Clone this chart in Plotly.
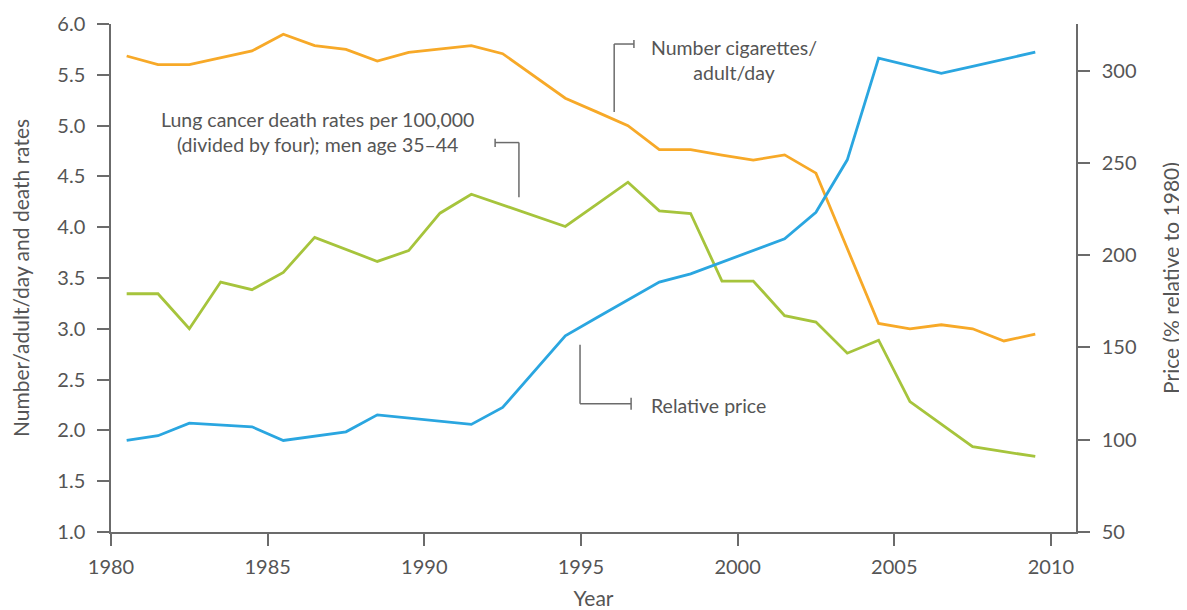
import plotly.graph_objects as go

years = list(range(1980, 2010))
cigarettes = [5.685, 5.60, 5.60, 5.665, 5.735, 5.90, 5.787, 5.75, 5.636, 5.72,
              5.753, 5.787, 5.708, 5.49, 5.27, 5.135, 5.00, 4.764, 4.764, 4.71,
              4.66, 4.712, 4.532, 3.79, 3.053, 3.00, 3.04, 3.00, 2.88, 2.947]
lung_cancer = [3.345, 3.345, 3.00, 3.46, 3.385, 3.555, 3.90, 3.78, 3.663, 3.77,
               4.138, 4.325, 4.22, 4.113, 4.007, 4.225, 4.443, 4.161, 4.135, 3.47,
               3.47, 3.129, 3.066, 2.76, 2.888, 2.283, 2.06, 1.84, 1.79, 1.745]
price = [99.6, 102.2, 109.0, 108.0, 107.0, 99.6, 102.0, 104.3, 113.5, 111.8,
         110.0, 108.3, 117.5, 136.9, 156.3, 166.1, 175.9, 185.4, 189.9, 196.2,
         202.6, 208.9, 223.3, 251.7, 306.8, 302.7, 298.6, 302.4, 306.2, 310.0]

x_tick_labels = [1980, 1985, 1990, 1995, 2000, 2005, 2010]
y_left_ticks = [1.0, 1.5, 2.0, 2.5, 3.0, 3.5, 4.0, 4.5, 5.0, 5.5, 6.0]
y_right_ticks = [50, 100, 150, 200, 250, 300]

xpos = [y + 0.5 for y in years]

ORANGE = "#F7A928"
GREEN = "#A6C43C"
BLUE = "#2AA6E0"
GREY = "#555555"
AXIS = "#6b6b6b"
FONT = "Lato"

fig = go.Figure()
fig.add_trace(go.Scatter(x=xpos, y=cigarettes, mode="lines",
                         line=dict(color=ORANGE, width=2.8), yaxis="y"))
fig.add_trace(go.Scatter(x=xpos, y=lung_cancer, mode="lines",
                         line=dict(color=GREEN, width=2.8), yaxis="y"))
fig.add_trace(go.Scatter(x=xpos, y=price, mode="lines",
                         line=dict(color=BLUE, width=2.8), yaxis="y2"))

# annotation brackets (data coordinates)
brackets = [
    dict(path=[(1996.06, 5.134), (1996.06, 5.803), (1996.69, 5.803)], cap=(1996.69, 5.764, 5.843)),
    dict(path=[(1993.02, 4.296), (1993.02, 4.833), (1992.26, 4.833)], cap=(1992.26, 4.79, 4.87)),
    dict(path=[(1994.97, 2.843), (1994.97, 2.263), (1996.6, 2.263)], cap=(1996.6, 2.203, 2.321)),
]
shapes = []
for b in brackets:
    p = b["path"]
    for (x0, y0), (x1, y1) in zip(p[:-1], p[1:]):
        shapes.append(dict(type="line", xref="x", yref="y", x0=x0, y0=y0, x1=x1, y1=y1,
                           line=dict(color=AXIS, width=1.5)))
    cx, cy0, cy1 = b["cap"]
    shapes.append(dict(type="line", xref="x", yref="y", x0=cx, y0=cy0, x1=cx, y1=cy1,
                       line=dict(color=AXIS, width=1.5)))

ANN_SIZE = 19.5
annotations = [
    dict(x=1999.87, y=5.646, xref="x", yref="y", text="Number cigarettes/<br>adult/day",
         showarrow=False, align="center", font=dict(family=FONT, size=ANN_SIZE, color=GREY)),
    dict(x=1986.6, y=4.933, xref="x", yref="y",
         text="Lung cancer death rates per 100,000<br>(divided by four); men age 35\u201344",
         showarrow=False, align="center", font=dict(family=FONT, size=ANN_SIZE, color=GREY)),
    dict(x=1997.17, y=2.243, xref="x", yref="y", text="Relative price", xanchor="left",
         showarrow=False, align="left", font=dict(family=FONT, size=ANN_SIZE, color=GREY)),
]

axis_common = dict(ticks="outside", ticklen=12, tickcolor=AXIS, tickwidth=1.5, showline=True,
                   linecolor=AXIS, linewidth=1.5, showgrid=False, zeroline=False,
                   tickfont=dict(size=20, color=GREY), automargin=False)

# page body has an 8px default margin: figure is sized/offset to fill the 1187x610 window
fig.update_layout(
    width=1179, height=602,
    margin=dict(l=103, r=111, t=16, b=78),
    paper_bgcolor="white", plot_bgcolor="white",
    showlegend=False,
    font=dict(family=FONT, color=GREY, size=20),
    shapes=shapes, annotations=annotations,
    xaxis=dict(range=[1980, 2010.8], tickvals=x_tick_labels, ticklabelstandoff=4,
               title=dict(text="Year", font=dict(size=21, color=GREY), standoff=23),
               **axis_common),
    yaxis=dict(range=[1, 6], tickvals=y_left_ticks, tickformat=".1f", ticklabelstandoff=8,
               title=dict(text="Number/adult/day and death rates", font=dict(size=21, color=GREY),
                          standoff=22),
               **axis_common),
    yaxis2=dict(range=[50, 325.3], tickvals=y_right_ticks, overlaying="y", side="right",
                ticklabelstandoff=8,
                title=dict(text="Price (% relative to 1980)", font=dict(size=21, color=GREY),
                           standoff=29),
                **axis_common),
)

fig.write_html("out.html")
